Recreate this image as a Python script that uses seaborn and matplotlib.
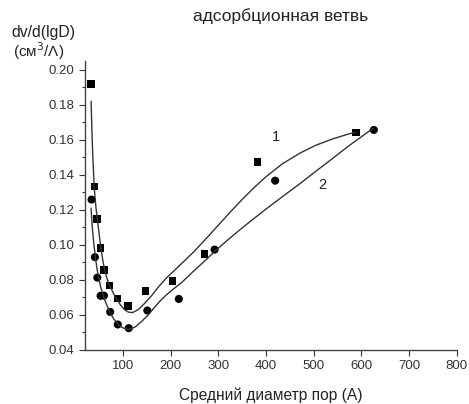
import matplotlib
matplotlib.use("Agg")
import matplotlib.pyplot as plt
import seaborn as sns
from matplotlib.ticker import MultipleLocator

# Measured points
sq_x = [33, 40, 46, 53, 60, 72, 88, 110, 147, 204, 271, 382, 588]
sq_y = [0.192, 0.1333, 0.1149, 0.0983, 0.0857, 0.0767, 0.0693, 0.0650, 0.0737, 0.0793, 0.0947, 0.1474, 0.1642]

ci_x = [34, 41, 46, 53, 60, 73, 89, 112, 151, 217, 292, 419, 626]
ci_y = [0.1259, 0.0930, 0.0813, 0.0709, 0.0710, 0.0617, 0.0545, 0.0524, 0.0625, 0.0691, 0.0973, 0.1367, 0.1657]

# Fit curves
c1_x = [33, 35, 37, 40, 43, 46.5, 50, 53.5, 57, 61, 66, 73, 80, 87, 95, 103, 111, 120, 132, 145,
        160, 175, 190, 210, 230, 250, 275, 300, 325, 350, 375, 400, 434, 470, 503, 540, 573, 587]
c1_y = [0.182, 0.163, 0.148, 0.1314, 0.122, 0.1140, 0.1060, 0.0985, 0.0920, 0.0862, 0.0810, 0.0762,
        0.0722, 0.0688, 0.0655, 0.0630, 0.0616, 0.0613, 0.0630, 0.0665, 0.0710, 0.0762, 0.0808,
        0.0860, 0.0912, 0.0965, 0.1038, 0.1113, 0.1188, 0.1260, 0.1328, 0.1390, 0.1463, 0.1523,
        0.1568, 0.1606, 0.1634, 0.1643]

c2_x = [33, 34.5, 36, 39, 42, 45, 48.5, 53, 59, 65, 73, 81, 90, 99, 108, 116, 125, 138, 153, 165,
        177, 190, 200, 225, 246, 270, 292, 316, 340, 365, 400, 434, 470, 503, 540, 573, 600, 615, 626]
c2_y = [0.1210, 0.1140, 0.1086, 0.1000, 0.0933, 0.0870, 0.0819, 0.0760, 0.0705, 0.0662, 0.0612,
        0.0575, 0.0545, 0.0527, 0.0518, 0.0520, 0.0530, 0.0560, 0.0600, 0.0640, 0.0677, 0.0712,
        0.0735, 0.0790, 0.0845, 0.0905, 0.0962, 0.1020, 0.1075, 0.1130, 0.1205, 0.1275, 0.1348,
        0.1418, 0.1495, 0.1565, 0.1618, 0.1648, 0.1667]

sns.set_style("ticks")
plt.rcParams['font.family'] = ['Liberation Sans', 'DejaVu Sans']

fig = plt.figure(figsize=(4.69, 4.04), dpi=100)
ax = fig.add_axes([0.181, 0.134, 0.793, 0.715])

sns.lineplot(x=c1_x, y=c1_y, ax=ax, color="#333333", lw=1.0, sort=False)
sns.lineplot(x=c2_x, y=c2_y, ax=ax, color="#333333", lw=1.0, sort=False)
sns.scatterplot(x=sq_x, y=sq_y, ax=ax, marker="s", s=30, color="black", edgecolor="none")
sns.scatterplot(x=ci_x, y=ci_y, ax=ax, marker="o", s=34, color="black", edgecolor="none")

ax.set_xlim(20, 800)
ax.set_ylim(0.04, 0.2051)
ax.set_xticks([100, 200, 300, 400, 500, 600, 700, 800])
yt = [0.04, 0.06, 0.08, 0.10, 0.12, 0.14, 0.16, 0.18, 0.20]
ax.set_yticks(yt)
ax.set_yticklabels([f"{v:.2f}" for v in yt])
ax.yaxis.set_minor_locator(MultipleLocator(0.01))
ax.tick_params(axis='x', which='major', labelsize=9.5, length=4, width=0.8, colors="#333333")
ax.tick_params(axis='y', which='major', labelsize=9.5, length=4, width=0.8, colors="#333333")
ax.tick_params(axis='y', which='minor', length=2.5, width=0.8, colors="#333333")
for s in ["left", "bottom"]:
    ax.spines[s].set_color("#444444")
    ax.spines[s].set_linewidth(1.0)
sns.despine(ax=ax)

ax.set_xlabel("Средний диаметр пор (A)", fontsize=11.2, color="#222222", labelpad=11)
ax.set_ylabel("")
ax.text(421, 0.1617, "1", fontsize=10.5, color="#222222", ha="center", va="center")
ax.text(517, 0.1343, "2", fontsize=10.5, color="#222222", ha="center", va="center")

fig.text(0.598, 0.960, "адсорбционная ветвь", fontsize=12.5, color="#222222", ha="center", va="center")
fig.text(0.025, 0.920, "dv/d(lgD)", fontsize=11.3, color="#222222", ha="left", va="center")
fig.text(0.027, 0.873, "(см$^3$/Λ)", fontsize=11, color="#222222", ha="left", va="center")

fig.savefig("out.png", dpi=100)
